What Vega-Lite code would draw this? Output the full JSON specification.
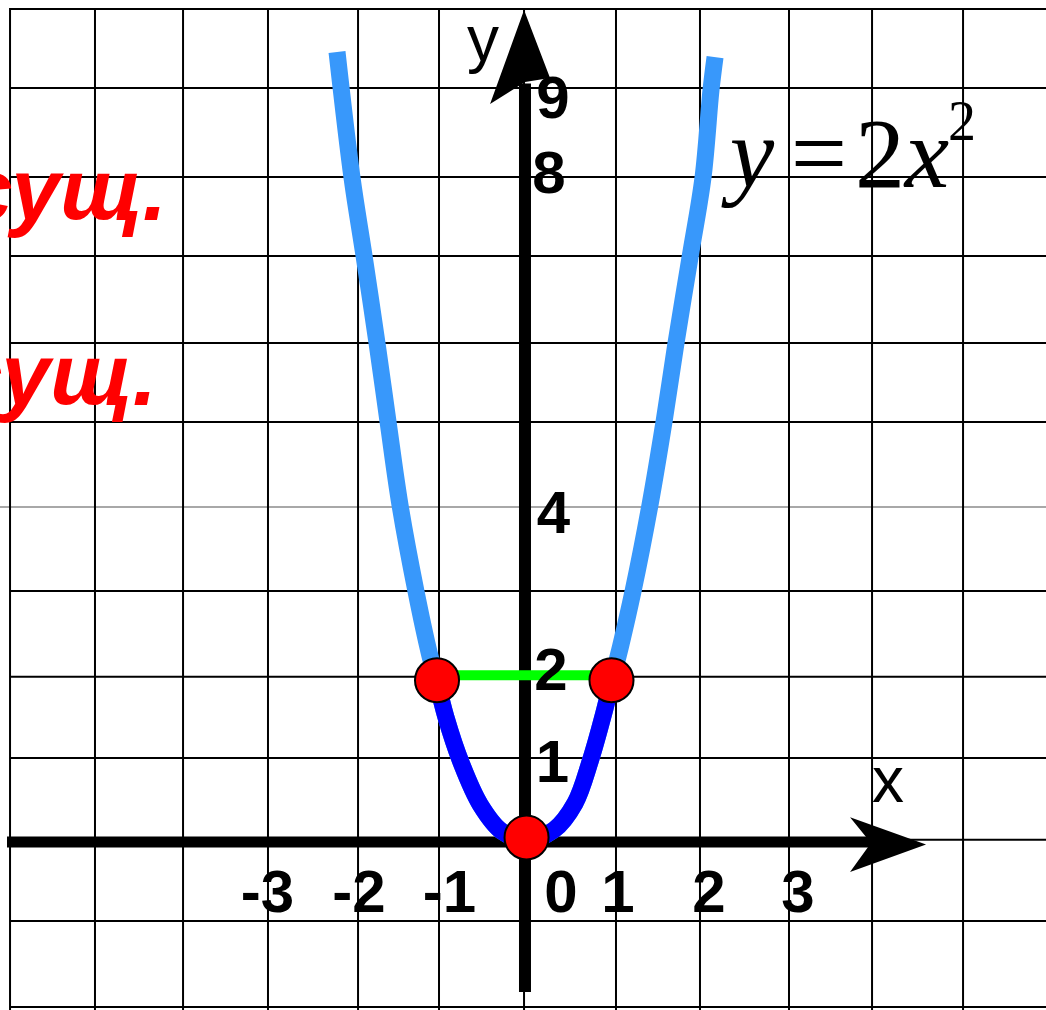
{
  "$schema": "https://vega.github.io/schema/vega-lite/v6.json",
  "width": 1046,
  "height": 1010,
  "autosize": "none",
  "padding": 0,
  "background": "white",
  "config": {"view": {"stroke": null}},
  "encoding": {
    "x": {"field": "x", "type": "quantitative", "scale": {"domain": [-6.104, 5.988], "nice": false, "zero": false}, "axis": null},
    "y": {"field": "y", "type": "quantitative", "scale": {"domain": [-2.048, 10.106], "nice": false, "zero": false}, "axis": null}
  },
  "layer": [
    {
      "data": {"values": [
        {"x": -5.99, "x2": 6.2, "y": 9.997},
        {"x": -5.99, "x2": 6.2, "y": 9.047},
        {"x": -5.99, "x2": 6.2, "y": 7.976},
        {"x": -5.99, "x2": 6.2, "y": 7.025},
        {"x": -5.99, "x2": 6.2, "y": 5.978},
        {"x": -5.99, "x2": 6.2, "y": 5.027},
        {"x": -5.99, "x2": 6.2, "y": 2.995},
        {"x": -5.99, "x2": 6.2, "y": 1.961},
        {"x": -5.99, "x2": 6.2, "y": 0.984},
        {"x": -5.99, "x2": 6.2, "y": 0.0},
        {"x": -5.99, "x2": 6.2, "y": -0.978},
        {"x": -5.99, "x2": 6.2, "y": -2.012}
      ]},
      "mark": {"type": "rule", "color": "#000000", "strokeWidth": 2, "clip": true},
      "encoding": {"x2": {"field": "x2"}}
    },
    {
      "data": {"values": [{"x": -6.2, "x2": 6.2, "y": 4.005}]},
      "mark": {"type": "rule", "color": "#a8a8a8", "strokeWidth": 2, "clip": true},
      "encoding": {"x2": {"field": "x2"}}
    },
    {
      "data": {"values": [
        {"x": -5.988, "y": -2.2, "y2": 10.01},
        {"x": -5.006, "y": -2.2, "y2": 10.01},
        {"x": -3.988, "y": -2.2, "y2": 10.01},
        {"x": -3.006, "y": -2.2, "y2": 10.01},
        {"x": -1.965, "y": -2.2, "y2": 10.01},
        {"x": -1.029, "y": -2.2, "y2": 10.01},
        {"x": -0.046, "y": -2.2, "y2": 10.01},
        {"x": 1.017, "y": -2.2, "y2": 10.01},
        {"x": 1.988, "y": -2.2, "y2": 10.01},
        {"x": 3.017, "y": -2.2, "y2": 10.01},
        {"x": 3.977, "y": -2.2, "y2": 10.01},
        {"x": 5.029, "y": -2.2, "y2": 10.01}
      ]},
      "mark": {"type": "rule", "color": "#000000", "strokeWidth": 2, "clip": true},
      "encoding": {"y2": {"field": "y2"}}
    },
    {
      "data": {"values": [
        {"x": -4.173, "y": 7.458, "t": "сущ."},
        {"x": -4.289, "y": 5.232, "t": "сущ."}
      ]},
      "mark": {"type": "text", "font": "Liberation Sans", "fontWeight": "bold", "fontStyle": "italic", "fontSize": 88, "color": "#ff0000", "align": "right", "baseline": "alphabetic", "clip": true},
      "encoding": {"text": {"field": "t"}}
    },
    {
      "data": {"values": [{"x": -6.023, "x2": 4.07, "y": -0.025}]},
      "mark": {"type": "rule", "color": "#000000", "strokeWidth": 11},
      "encoding": {"x2": {"field": "x2"}}
    },
    {
      "data": {"values": [{"x": -0.035, "y": -1.83, "y2": 9.1}]},
      "mark": {"type": "rule", "color": "#000000", "strokeWidth": 12},
      "encoding": {"y2": {"field": "y2"}}
    },
    {
      "data": {"values": [{"x": 4.162, "y": -0.057}]},
      "mark": {"type": "point", "shape": "M1,0L-1,-0.72L-0.45,-0.04L-1,0.72Z", "size": 5776, "filled": true, "color": "#000000", "opacity": 1, "strokeWidth": 0}
    },
    {
      "data": {"values": [{"x": -0.092, "y": 9.42}]},
      "mark": {"type": "point", "shape": "M0.085,-1L0.638,0.447L0.106,0.532L-0.638,1Z", "size": 8836, "filled": true, "color": "#000000", "opacity": 1, "strokeWidth": 0}
    },
    {
      "data": {"values": [
        {"x": -2.208, "y": 9.48},
        {"x": -2.035, "y": 7.97},
        {"x": -1.896, "y": 7.03},
        {"x": -1.746, "y": 5.98},
        {"x": -1.618, "y": 5.03},
        {"x": -1.48, "y": 4.03},
        {"x": -1.295, "y": 2.99},
        {"x": -1.14, "y": 2.24},
        {"x": -1.052, "y": 1.9},
        {"x": -0.95, "y": 1.48},
        {"x": -0.77, "y": 0.92},
        {"x": -0.55, "y": 0.42},
        {"x": -0.3, "y": 0.1},
        {"x": -0.012, "y": 0.0},
        {"x": 0.3, "y": 0.12},
        {"x": 0.543, "y": 0.44},
        {"x": 0.72, "y": 0.95},
        {"x": 0.87, "y": 1.5},
        {"x": 0.965, "y": 1.9},
        {"x": 1.07, "y": 2.33},
        {"x": 1.214, "y": 2.99},
        {"x": 1.41, "y": 4.03},
        {"x": 1.572, "y": 5.03},
        {"x": 1.711, "y": 5.98},
        {"x": 1.873, "y": 7.01},
        {"x": 2.023, "y": 7.97},
        {"x": 2.116, "y": 9.03},
        {"x": 2.162, "y": 9.42}
      ]},
      "mark": {"type": "line", "color": "#3898fb", "strokeWidth": 17, "interpolate": "catmull-rom"}
    },
    {
      "data": {"values": [
        {"x": -1.052, "y": 1.9},
        {"x": -0.95, "y": 1.48},
        {"x": -0.77, "y": 0.92},
        {"x": -0.55, "y": 0.42},
        {"x": -0.3, "y": 0.1},
        {"x": -0.012, "y": 0.0},
        {"x": 0.3, "y": 0.12},
        {"x": 0.543, "y": 0.44},
        {"x": 0.72, "y": 0.95},
        {"x": 0.87, "y": 1.5},
        {"x": 0.965, "y": 1.9}
      ]},
      "mark": {"type": "line", "color": "#0000ff", "strokeWidth": 17, "interpolate": "catmull-rom"}
    },
    {
      "data": {"values": [{"x": -1.052, "x2": 0.965, "y": 1.98}]},
      "mark": {"type": "rule", "color": "#00ff00", "strokeWidth": 10},
      "encoding": {"x2": {"field": "x2"}}
    },
    {
      "data": {"values": [
        {"x": -1.052, "y": 1.92},
        {"x": 0.965, "y": 1.92},
        {"x": -0.017, "y": 0.028}
      ]},
      "mark": {"type": "point", "shape": "circle", "filled": true, "fill": "#ff0000", "stroke": "#000000", "strokeWidth": 2, "size": 1940, "opacity": 1}
    },
    {
      "data": {"values": [
        {"x": 0.289, "y": 8.686, "t": "9"},
        {"x": 0.243, "y": 7.783, "t": "8"},
        {"x": 0.295, "y": 3.692, "t": "4"},
        {"x": 0.266, "y": 1.805, "t": "2"},
        {"x": 0.283, "y": 0.697, "t": "1"},
        {"x": -3.012, "y": -0.869, "t": "-3"},
        {"x": -1.954, "y": -0.869, "t": "-2"},
        {"x": -0.908, "y": -0.869, "t": "-1"},
        {"x": 0.382, "y": -0.869, "t": "0"},
        {"x": 1.04, "y": -0.869, "t": "1"},
        {"x": 2.092, "y": -0.869, "t": "2"},
        {"x": 3.121, "y": -0.869, "t": "3"}
      ]},
      "mark": {"type": "text", "font": "Liberation Sans", "fontWeight": "bold", "fontSize": 60, "color": "#000000", "align": "center", "baseline": "alphabetic"},
      "encoding": {"text": {"field": "t"}}
    },
    {
      "data": {"values": [
        {"x": -0.52, "y": 9.372, "t": "y"},
        {"x": 4.162, "y": 0.455, "t": "x"}
      ]},
      "mark": {"type": "text", "font": "Liberation Sans", "fontSize": 64, "color": "#000000", "align": "center", "baseline": "alphabetic"},
      "encoding": {"text": {"field": "t"}}
    },
    {
      "data": {"values": [
        {"x": 2.59, "y": 7.856, "t": "y"},
        {"x": 4.613, "y": 7.856, "t": "x"}
      ]},
      "mark": {"type": "text", "font": "Liberation Serif", "fontStyle": "italic", "fontSize": 100, "color": "#000000", "align": "center", "baseline": "alphabetic"},
      "encoding": {"text": {"field": "t"}}
    },
    {
      "data": {"values": [
        {"x": 3.364, "y": 7.856, "t": "="},
        {"x": 4.069, "y": 7.856, "t": "2"}
      ]},
      "mark": {"type": "text", "font": "Liberation Serif", "fontSize": 100, "color": "#000000", "align": "center", "baseline": "alphabetic"},
      "encoding": {"text": {"field": "t"}}
    },
    {
      "data": {"values": [
        {"x": 5.017, "y": 8.42, "t": "2"}
      ]},
      "mark": {"type": "text", "font": "Liberation Serif", "fontSize": 56, "color": "#000000", "align": "center", "baseline": "alphabetic"},
      "encoding": {"text": {"field": "t"}}
    }
  ]
}
